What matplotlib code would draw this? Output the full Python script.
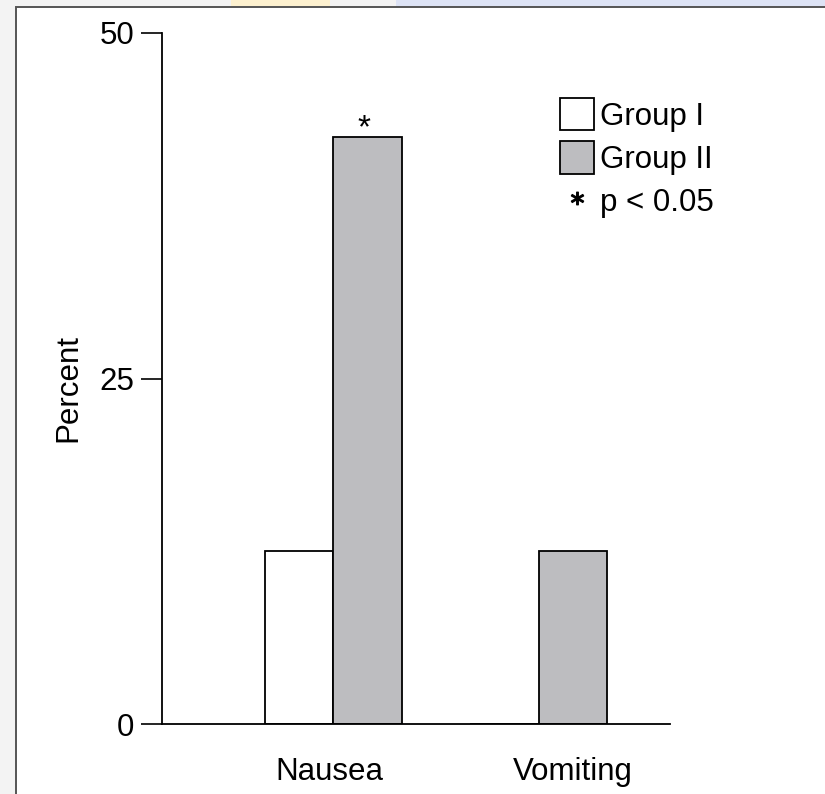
import matplotlib.pyplot as plt
from matplotlib.patches import Patch, Rectangle
from matplotlib.lines import Line2D

# Incidence of nausea and vomiting by group
symptoms = ["Nausea", "Vomiting"]
group1 = [12.5, 0.0]
group2 = [42.5, 12.5]
significant = [True, False]   # group II vs group I, p < 0.05

plt.rcParams['font.family'] = ['Liberation Sans', 'DejaVu Sans']
plt.rcParams['font.size'] = 22.5

fig = plt.figure(figsize=(8.25, 7.94), dpi=100)

# slide frame around the figure
fig.patches.append(Rectangle((0, 0), 1, 1, transform=fig.transFigure,
                             facecolor='#f3f3f3', edgecolor='none', zorder=-3))
fig.patches.append(Rectangle((0.28, 0.99), 0.12, 0.01, transform=fig.transFigure,
                             facecolor='#fdf1cf', edgecolor='none', zorder=-3))
fig.patches.append(Rectangle((0.48, 0.99), 0.52, 0.01, transform=fig.transFigure,
                             facecolor='#dde3f5', edgecolor='none', zorder=-3))
fig.patches.append(Rectangle((16 / 825, -0.01), 1, 1.01 - 7 / 794, transform=fig.transFigure,
                             facecolor='white', edgecolor='#555555', linewidth=1.4, zorder=-2))

ax = fig.add_axes([162 / 825, 70 / 794, (670 - 162) / 825, (724 - 33) / 794])
ax.patch.set_alpha(0)

pos1 = [0, 3]
pos2 = [1, 4]
ax.bar(pos1, group1, width=1, color='white', edgecolor='black', linewidth=1.3)
ax.bar(pos2, group2, width=1, color='#bdbdc0', edgecolor='black', linewidth=1.3)

for x, h, sig in zip(pos2, group2, significant):
    if sig:
        ax.text(x - 0.05, h - 0.55, '*', ha='center', va='bottom', fontsize=24)

ax.set_xlim(-2, 5.42)
ax.set_ylim(0, 50)
ax.set_yticks([0, 25, 50])
ax.set_xticks([0.45, 4])
ax.set_xticklabels(symptoms)
ax.tick_params(axis='x', length=0, pad=24)
ax.tick_params(axis='y', length=15, width=1.2, pad=5)
ax.set_ylabel('Percent')
ax.yaxis.set_label_coords(-0.155, 0.486)

for side in ['top', 'right']:
    ax.spines[side].set_visible(False)
ax.spines['left'].set_linewidth(1.3)
ax.spines['bottom'].set_linewidth(1.3)

handles = [Patch(facecolor='white', edgecolor='black', linewidth=1.3),
           Patch(facecolor='#bdbdc0', edgecolor='black', linewidth=1.3),
           Line2D([], [], linestyle='none', marker='$*$', markersize=9, color='black')]
ax.legend(handles, ['Group I', 'Group II', 'p < 0.05'], loc='upper left',
          bbox_to_anchor=(0.783, 0.906), frameon=False, handlelength=1.1,
          handleheight=1.22, handletextpad=0.2, labelspacing=0.3,
          borderpad=0, borderaxespad=0)

fig.savefig('out.png', dpi=100)
